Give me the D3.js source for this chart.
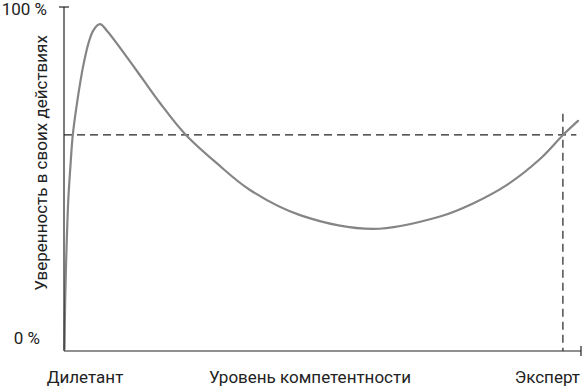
<!DOCTYPE html>
<html>
<head>
<meta charset="utf-8">
<script src="https://cdn.jsdelivr.net/npm/d3@7"></script>
<style>
  body { margin: 0; background: #fff; }
  text { font-family: Roboto, "Noto Sans", sans-serif; fill: #222; }
</style>
</head>
<body>
<div id="chart"></div>
<script>
// competence (0-100) vs confidence (0-100)
const competence = [0.1, 0.23, 0.48, 0.83, 1.26, 1.7, 2.61, 3.68, 4.74, 5.71, 6.96, 8.26, 12.13, 15.34, 18.57, 23.4, 29.54, 35.98, 45.65, 59.77, 72.73, 79.11, 85.69, 92.07, 96.52, 99.42];
const confidence = [0.6, 14.8, 29.4, 43.9, 54.1, 62.8, 73.0, 82.6, 89.5, 93.3, 95.0, 93.2, 85.5, 78.8, 72.1, 63.1, 54.6, 46.8, 39.5, 35.5, 39.1, 42.9, 48.3, 55.8, 62.8, 66.9];

const yTickLabels = ["0 %", "100 %"];
const xLabels = ["Дилетант", "Уровень компетентности", "Эксперт"];
const yTitle = "Уверенность в своих действиях";

const referenceLevel = 62.8;   // dashed horizontal
const expertPoint = 96.5;      // dashed vertical
const expertTop = 69;

const width = 584, height = 387;
const fontSize = "17px";

const svg = d3.select("#chart")
  .append("svg")
    .attr("width", width)
    .attr("height", height);

const x = d3.scaleLinear().domain([0, 100]).range([64, 581]);
const y = d3.scaleLinear().domain([0, 100]).range([351, 7]);

// dashed guides
svg.append("line")
  .attr("x1", x(0)).attr("x2", x(99.1))
  .attr("y1", y(referenceLevel)).attr("y2", y(referenceLevel))
  .attr("stroke", "#222")
  .attr("stroke-width", 1.2)
  .attr("stroke-dasharray", "8,5");

svg.append("line")
  .attr("x1", x(expertPoint)).attr("x2", x(expertPoint))
  .attr("y1", y(expertTop)).attr("y2", y(0))
  .attr("stroke", "#222")
  .attr("stroke-width", 1.2)
  .attr("stroke-dasharray", "8,5");

// curve
const pts = competence.map((c, i) => [c, confidence[i]]);
const line = d3.line()
  .x(d => x(d[0]))
  .y(d => y(d[1]))
  .curve(d3.curveCatmullRom.alpha(0.5));

svg.append("path")
  .datum(pts)
  .attr("d", line)
  .attr("fill", "none")
  .attr("stroke", "#858585")
  .attr("stroke-width", 2.2)
  .attr("stroke-linecap", "round");

// axes
const axisColor = "#222";
svg.append("line")
  .attr("x1", x(0)).attr("x2", x(0))
  .attr("y1", y(100)).attr("y2", y(0))
  .attr("stroke", axisColor).attr("stroke-width", 1.2);
svg.append("line")
  .attr("x1", x(0) - 5).attr("x2", x(0) + 5)
  .attr("y1", y(100)).attr("y2", y(100))
  .attr("stroke", axisColor).attr("stroke-width", 1.2);
svg.append("line")
  .attr("x1", x(0)).attr("x2", x(100))
  .attr("y1", y(0)).attr("y2", y(0))
  .attr("stroke", axisColor).attr("stroke-width", 1.2);
svg.append("line")
  .attr("x1", x(100)).attr("x2", x(100))
  .attr("y1", y(0) - 5).attr("y2", y(0) + 5)
  .attr("stroke", axisColor).attr("stroke-width", 1.2);

// y tick labels
svg.append("text")
  .attr("x", 47).attr("y", 15)
  .attr("text-anchor", "end")
  .style("font-size", fontSize)
  .text(yTickLabels[1]);
svg.append("text")
  .attr("x", 40).attr("y", 344)
  .attr("text-anchor", "end")
  .style("font-size", fontSize)
  .text(yTickLabels[0]);

// x labels
svg.append("text")
  .attr("x", 85).attr("y", 383)
  .attr("text-anchor", "middle")
  .style("font-size", fontSize)
  .text(xLabels[0]);
svg.append("text")
  .attr("x", 310).attr("y", 383)
  .attr("text-anchor", "middle")
  .style("font-size", fontSize)
  .text(xLabels[1]);
svg.append("text")
  .attr("x", 580).attr("y", 383)
  .attr("text-anchor", "end")
  .style("font-size", fontSize)
  .text(xLabels[2]);

// y title
svg.append("text")
  .attr("transform", "translate(47,163) rotate(-90)")
  .attr("text-anchor", "middle")
  .style("font-size", fontSize)
  .text(yTitle);
</script>
</body>
</html>
